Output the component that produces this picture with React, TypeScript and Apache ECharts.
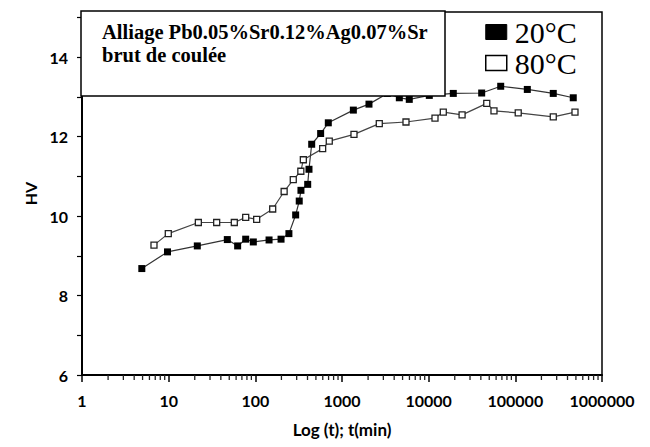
import React, { useEffect, useRef } from "react";
import * as echarts from "echarts";

// 20°C series: time (min) and hardness HV
const time20 = [4.9, 9.7, 21.4, 47.5, 62.5, 77.4, 94.8, 144, 198, 244, 292, 321, 336, 402, 416, 447, 567, 695, 1352, 2048, 3334, 4586, 5974, 10170, 19240, 40900, 67800, 137500, 274000, 466000];
const hv20 = [8.68, 9.1, 9.25, 9.41, 9.25, 9.42, 9.35, 9.4, 9.42, 9.56, 10.03, 10.38, 10.65, 10.8, 11.18, 11.81, 12.08, 12.35, 12.67, 12.82, 13.09, 12.98, 12.94, 13.04, 13.09, 13.1, 13.27, 13.19, 13.09, 12.98];

// 80°C series
const time80 = [6.77, 9.9, 22.0, 35.8, 57.2, 77.4, 103.6, 158.6, 215, 274, 335, 358, 598, 713, 1375, 2693, 5475, 11830, 14750, 24300, 46800, 56700, 108000, 274000, 488000];
const hv80 = [9.27, 9.56, 9.84, 9.84, 9.84, 9.97, 9.92, 10.18, 10.62, 10.92, 11.13, 11.42, 11.7, 11.89, 12.06, 12.33, 12.37, 12.47, 12.62, 12.55, 12.84, 12.65, 12.6, 12.5, 12.62];

const seriesNames = ["20°C", "80°C"];
const yLabelValues = [6, 8, 10, 12, 14];
const xDecades = [1, 10, 100, 1000, 10000, 100000, 1000000];
const minorMultipliers = [2, 3, 4, 5, 6, 7, 8, 9];
const titleLines = ["Alliage Pb0.05%Sr0.12%Ag0.07%Sr", "brut de coulée"];

export default function App() {
  const ref = useRef<HTMLDivElement>(null);
  useEffect(() => {
    if (!ref.current) return;
    document.body.style.margin = "0";
    const chart = echarts.init(ref.current, null, { renderer: "svg" });
    const minorTicks: number[][] = [];
    for (let d = 0; d < xDecades.length - 1; d++) {
      for (const k of minorMultipliers) minorTicks.push([xDecades[d] * k, 6]);
    }
    const sans = "Lato, 'Open Sans', sans-serif";
    const serif = "'Liberation Serif', 'DejaVu Serif', serif";
    chart.setOption({
      animation: false,
      backgroundColor: "#fff",
      grid: {
        left: 82,
        right: 48,
        top: 12,
        bottom: 72,
        show: true,
        borderColor: "#000",
        borderWidth: 1.5,
        backgroundColor: "transparent",
      },
      xAxis: {
        type: "log",
        logBase: 10,
        min: 1,
        max: 1000000,
        name: "Log (t); t(min)",
        nameLocation: "middle",
        nameGap: 46,
        nameTextStyle: { fontFamily: sans, fontWeight: "bold", fontSize: 17, color: "#000" },
        axisLine: { show: true, lineStyle: { color: "#000", width: 2 } },
        axisTick: { show: true, length: 7, lineStyle: { color: "#000", width: 1.5 } },
        splitLine: { show: false },
        axisLabel: {
          margin: 17,
          fontFamily: sans,
          fontWeight: "bold",
          fontSize: 16,
          color: "#000",
          formatter: (v: number) => String(Math.round(v)),
        },
      },
      yAxis: {
        type: "value",
        min: 6,
        max: 15.14,
        interval: 1,
        name: "HV",
        nameLocation: "middle",
        nameGap: 27,
        nameRotate: 90,
        nameTextStyle: { fontFamily: sans, fontWeight: "bold", fontSize: 16, color: "#000" },
        axisLine: { show: true, lineStyle: { color: "#000", width: 2 } },
        axisTick: { show: true, length: 5, lineStyle: { color: "#000", width: 1.2 } },
        splitLine: { show: false },
        axisLabel: {
          margin: 14,
          fontFamily: sans,
          fontWeight: "bold",
          fontSize: 16,
          color: "#000",
          showMaxLabel: false,
          formatter: (v: number) => (yLabelValues.indexOf(v) >= 0 ? String(v) : ""),
        },
      },
      legend: {
        data: [
          { name: seriesNames[0], icon: "rect", itemStyle: { color: "#000", borderColor: "#000", borderWidth: 1 } },
          { name: seriesNames[1], icon: "rect", itemStyle: { color: "#fff", borderColor: "#000", borderWidth: 1.5 } },
        ],
        orient: "vertical",
        left: 480,
        top: 12,
        itemWidth: 21,
        itemHeight: 15,
        itemGap: 1,
        textStyle: { fontFamily: serif, fontSize: 30, color: "#000", padding: [0, 0, 0, 3] },
      },
      graphic: [
        {
          type: "rect",
          shape: { x: 81, y: 11, width: 364, height: 85 },
          style: { fill: "#fff", stroke: "#000", lineWidth: 1.5 },
          z: 10,
        },
        {
          type: "text",
          left: 102,
          top: 21,
          z: 11,
          style: { text: titleLines[0], fontFamily: serif, fontWeight: "bold", fontSize: 20.5, fill: "#000" },
        },
        {
          type: "text",
          left: 102,
          top: 44,
          z: 11,
          style: { text: titleLines[1], fontFamily: serif, fontWeight: "bold", fontSize: 20.5, fill: "#000" },
        },
      ],
      series: [
        {
          name: seriesNames[0],
          type: "line",
          data: time20.map((t, i) => [t, hv20[i]]),
          symbol: "rect",
          symbolSize: 7,
          showAllSymbol: true,
          itemStyle: { color: "#000" },
          lineStyle: { color: "#333", width: 1.2 },
          z: 3,
        },
        {
          name: seriesNames[1],
          type: "line",
          data: time80.map((t, i) => [t, hv80[i]]),
          symbol: "rect",
          symbolSize: 6,
          showAllSymbol: true,
          itemStyle: { color: "#fff", borderColor: "#222", borderWidth: 1.3 },
          lineStyle: { color: "#444", width: 1.2 },
          z: 2,
        },
        {
          name: "minor",
          type: "scatter",
          data: minorTicks,
          symbol: "rect",
          symbolSize: [1.3, 5],
          symbolOffset: [0, 2.5],
          itemStyle: { color: "#222", opacity: 1 },
          silent: true,
          clip: false,
          z: 5,
        },
      ],
    });
    return () => chart.dispose();
  }, []);
  return <div ref={ref} style={{ width: 650, height: 447 }} />;
}
